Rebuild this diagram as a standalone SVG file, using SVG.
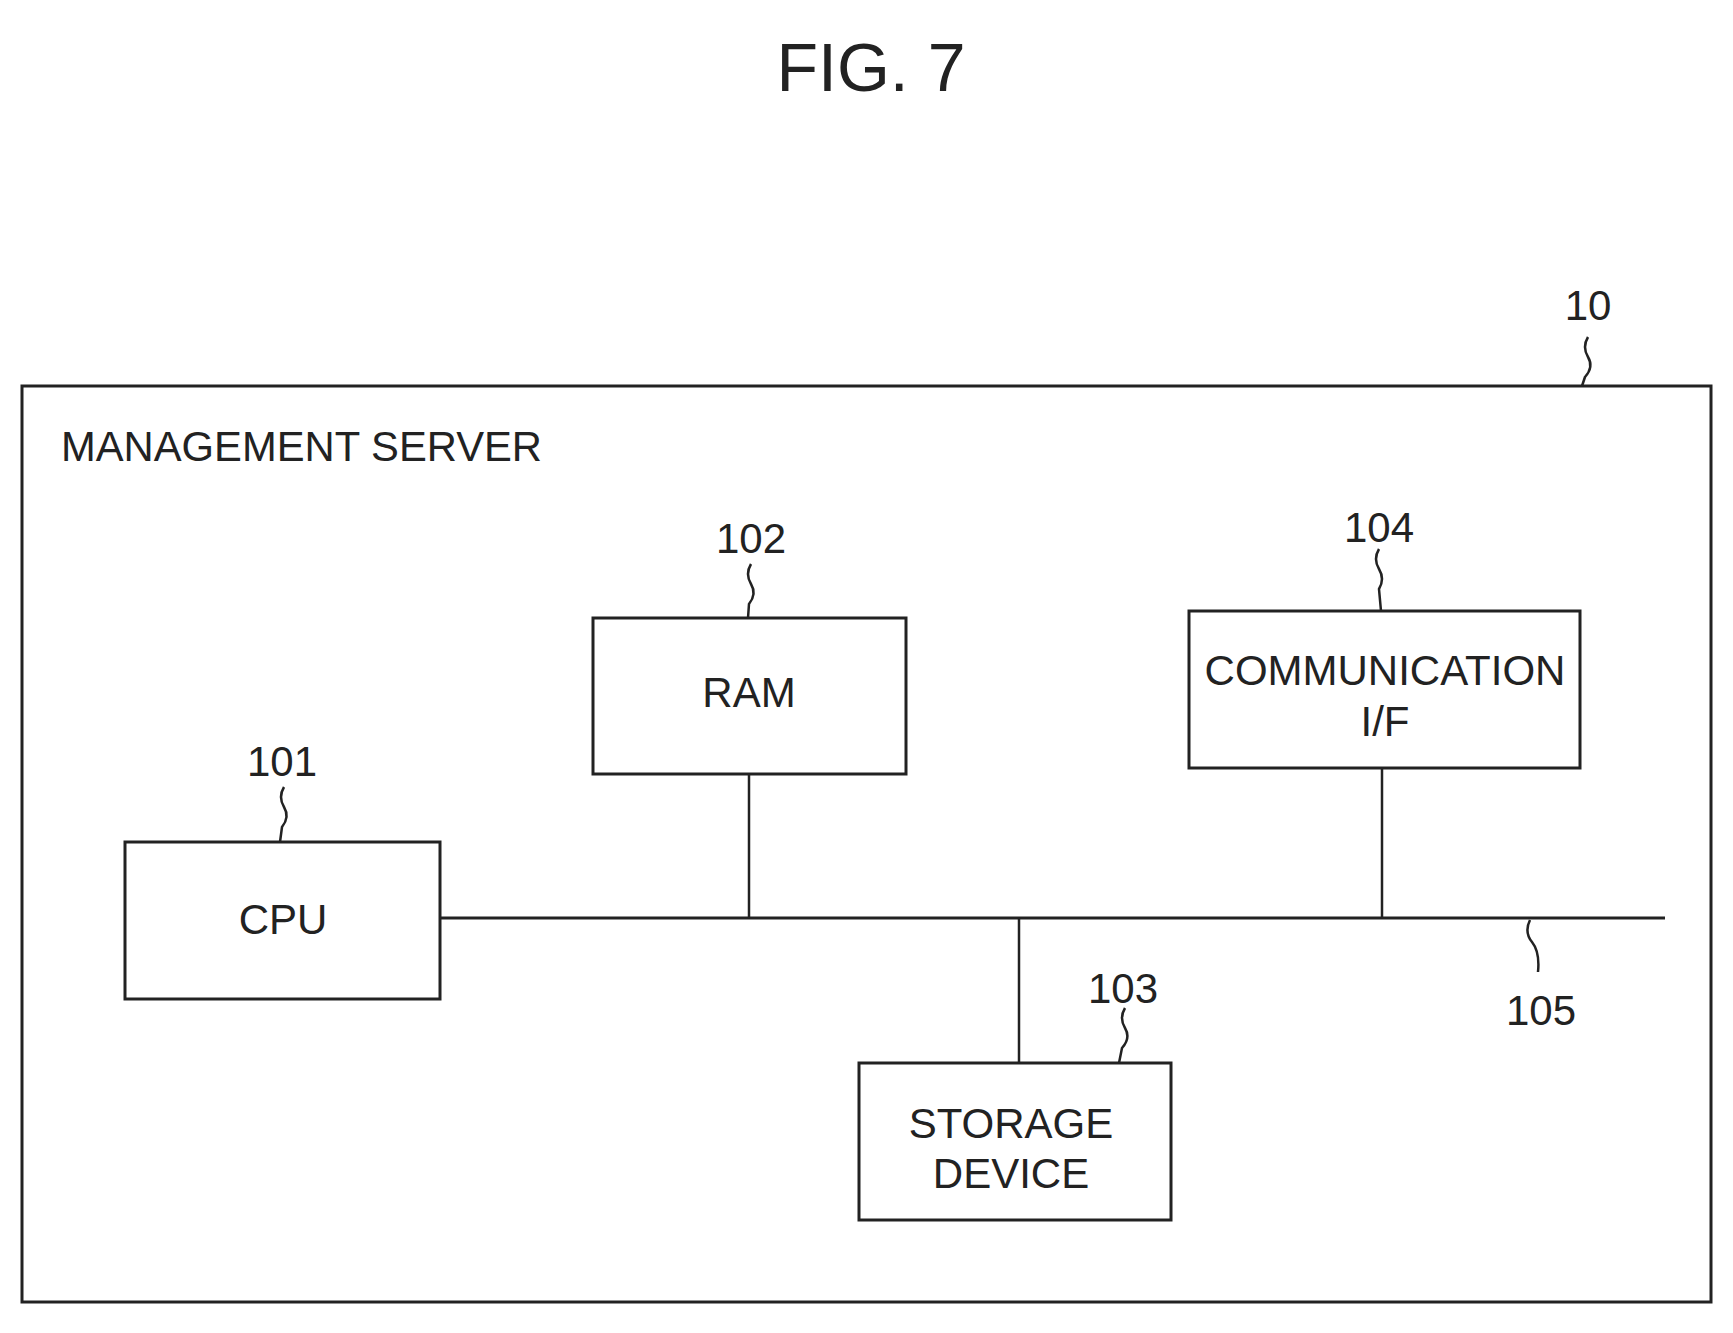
<svg xmlns="http://www.w3.org/2000/svg" width="1733" height="1333" viewBox="0 0 1733 1333">
<style>
text{font-family:"Liberation Sans",Arial,sans-serif;fill:#222;text-anchor:middle}
.b{fill:none;stroke:#222;stroke-width:3}
.l{fill:none;stroke:#222;stroke-width:2.5}
.t{font-size:42px}
.n{font-size:42px}
</style>
<rect width="1733" height="1333" fill="#fff"/>
<text x="871" y="91" style="font-size:68px">FIG. 7</text>
<g id="server">
<rect class="b" x="22" y="386" width="1689" height="916"/>
<text class="t" x="61" y="461" style="text-anchor:start" textLength="481" lengthAdjust="spacingAndGlyphs">MANAGEMENT SERVER</text>
<text class="n" x="1588" y="320">10</text>
<path class="l" d="M1588,337 q-6,10 0,20 q6,10 -3,20 l-3,9"/>
</g>
<g id="cpu">
<rect class="b" x="125" y="842" width="315" height="157"/>
<text class="t" x="283" y="934">CPU</text>
<text class="n" x="282" y="776">101</text>
<path class="l" d="M284,787 q-6,10 0,20 q6,10 -2,20 l-2,15"/>
</g>
<g id="ram">
<rect class="b" x="593" y="618" width="313" height="156"/>
<text class="t" x="749" y="707">RAM</text>
<text class="n" x="751" y="553">102</text>
<path class="l" d="M751,564 q-6,10 0,20 q6,10 -2,20 l-1,14"/>
</g>
<g id="storage">
<rect class="b" x="859" y="1063" width="312" height="157"/>
<text class="t" x="1011" y="1138">STORAGE</text>
<text class="t" x="1011" y="1188">DEVICE</text>
<text class="n" x="1123" y="1003">103</text>
<path class="l" d="M1125,1008 q-6,10 0,20 q6,10 -3,20 l-3,15"/>
</g>
<g id="comm">
<rect class="b" x="1189" y="611" width="391" height="157"/>
<text class="t" x="1385" y="685">COMMUNICATION</text>
<text class="t" x="1385" y="736">I/F</text>
<text class="n" x="1379" y="542">104</text>
<path class="l" d="M1379,549 q-6,10 0,20 q6,10 0,20 l2,22"/>
</g>
<g id="connectors">
<line class="b" x1="440" y1="918" x2="1665" y2="918"/>
<line class="l" x1="749" y1="774" x2="749" y2="918"/>
<line class="l" x1="1382" y1="768" x2="1382" y2="918"/>
<line class="l" x1="1019" y1="918" x2="1019" y2="1063"/>
<path class="l" d="M1530,920 q-6,12 2,22 q8,10 6,30"/>
<text class="n" x="1541" y="1025">105</text>
</g>
</svg>
